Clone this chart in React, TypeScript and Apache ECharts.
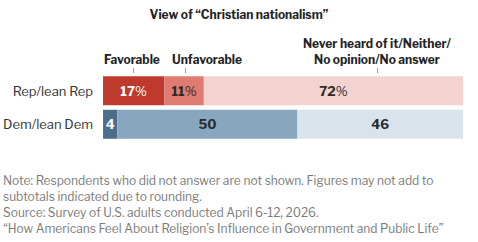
import React, { useEffect, useRef } from "react";
import * as echarts from "echarts";

const groups = ["Rep/lean Rep", "Dem/lean Dem"];
const favorable = [17, 4];
const unfavorable = [11, 50];
const neverHeard = [72, 46];

const repColors = ["#BE3A2C", "#DF7B70", "#F3D2CF"];
const demColors = ["#4C6E8C", "#88A7BF", "#D8E3EC"];
const labelColors = ["#ffffff", "#2b2b2b", "#2b2b2b"];

const noteLines = [
  "Note: Respondents who did not answer are not shown. Figures may not add to",
  "subtotals indicated due to rounding.",
  "Source: Survey of U.S. adults conducted April 6-12, 2026.",
  "\u201cHow Americans Feel About Religion\u2019s Influence in Government and Public Life\u201d",
];

const FONT = "'Libre Franklin', Roboto, 'Noto Sans', Arial, sans-serif";

export default function App() {
  const ref = useRef<HTMLDivElement>(null);

  useEffect(() => {
    if (!ref.current) return;
    const chart = echarts.init(ref.current, null, { renderer: "svg" });

    const seriesData = [favorable, unfavorable, neverHeard];
    const names = ["Favorable", "Unfavorable", "Never heard of it/Neither/No opinion/No answer"];

    const series = seriesData.map((vals, si) => ({
      type: "bar" as const,
      name: names[si],
      stack: "total",
      barWidth: 29,
      data: vals.map((v, gi) => ({
        value: v,
        itemStyle: { color: gi === 0 ? repColors[si] : demColors[si] },
      })),
      label: {
        show: true,
        position: "inside" as const,
        formatter: (p: any) =>
          p.dataIndex === 0 ? `{b|${p.value}}{p|%}` : `{b|${p.value}}`,
        rich: {
          b: { fontFamily: FONT, fontSize: 13, fontWeight: "bold", color: labelColors[si] },
          p: { fontFamily: FONT, fontSize: 13, color: labelColors[si] },
        },
      },
    }));

    const tick = (x: number) => ({
      type: "line",
      shape: { x1: x, y1: 68, x2: x, y2: 73 },
      style: { stroke: "#999", lineWidth: 1 },
    });

    chart.setOption({
      animation: false,
      grid: { left: 103, right: 15, top: 74, height: 67 },
      xAxis: { type: "value", min: 0, max: 100, show: false },
      yAxis: {
        type: "category",
        data: groups,
        inverse: true,
        axisLine: { show: false },
        axisTick: { show: false },
        axisLabel: { fontFamily: FONT, fontSize: 13, color: "#333", margin: 10 },
      },
      series,
      graphic: [
        {
          type: "text",
          left: "center",
          top: 8,
          style: {
            text: "View of \u201cChristian nationalism\u201d",
            font: `bold 12px ${FONT}`,
            fill: "#222",
          },
        },
        {
          type: "text",
          x: 104,
          y: 53,
          style: { text: "Favorable", font: `bold 12px ${FONT}`, fill: "#222" },
        },
        {
          type: "text",
          x: 172,
          y: 53,
          style: { text: "Unfavorable", font: `bold 12px ${FONT}`, fill: "#222" },
        },
        {
          type: "text",
          x: 377,
          y: 35,
          style: {
            text: "Never heard of it/Neither/\nNo opinion/No answer",
            font: `bold 12px ${FONT}`,
            fill: "#222",
            align: "center",
            lineHeight: 16,
          },
        },
        tick(133.5),
        tick(185.5),
        tick(377.5),
        ...noteLines.map((t, i) => ({
          type: "text",
          x: 3,
          y: 174 + i * 16,
          style: { text: t, font: `12px ${FONT}`, fill: "#7a7a7a" },
        })),
      ],
    });

    return () => chart.dispose();
  }, []);

  return (
    <div
      ref={ref}
      style={{ width: 478, height: 242, position: "absolute", left: 0, top: 0 }}
    />
  );
}
